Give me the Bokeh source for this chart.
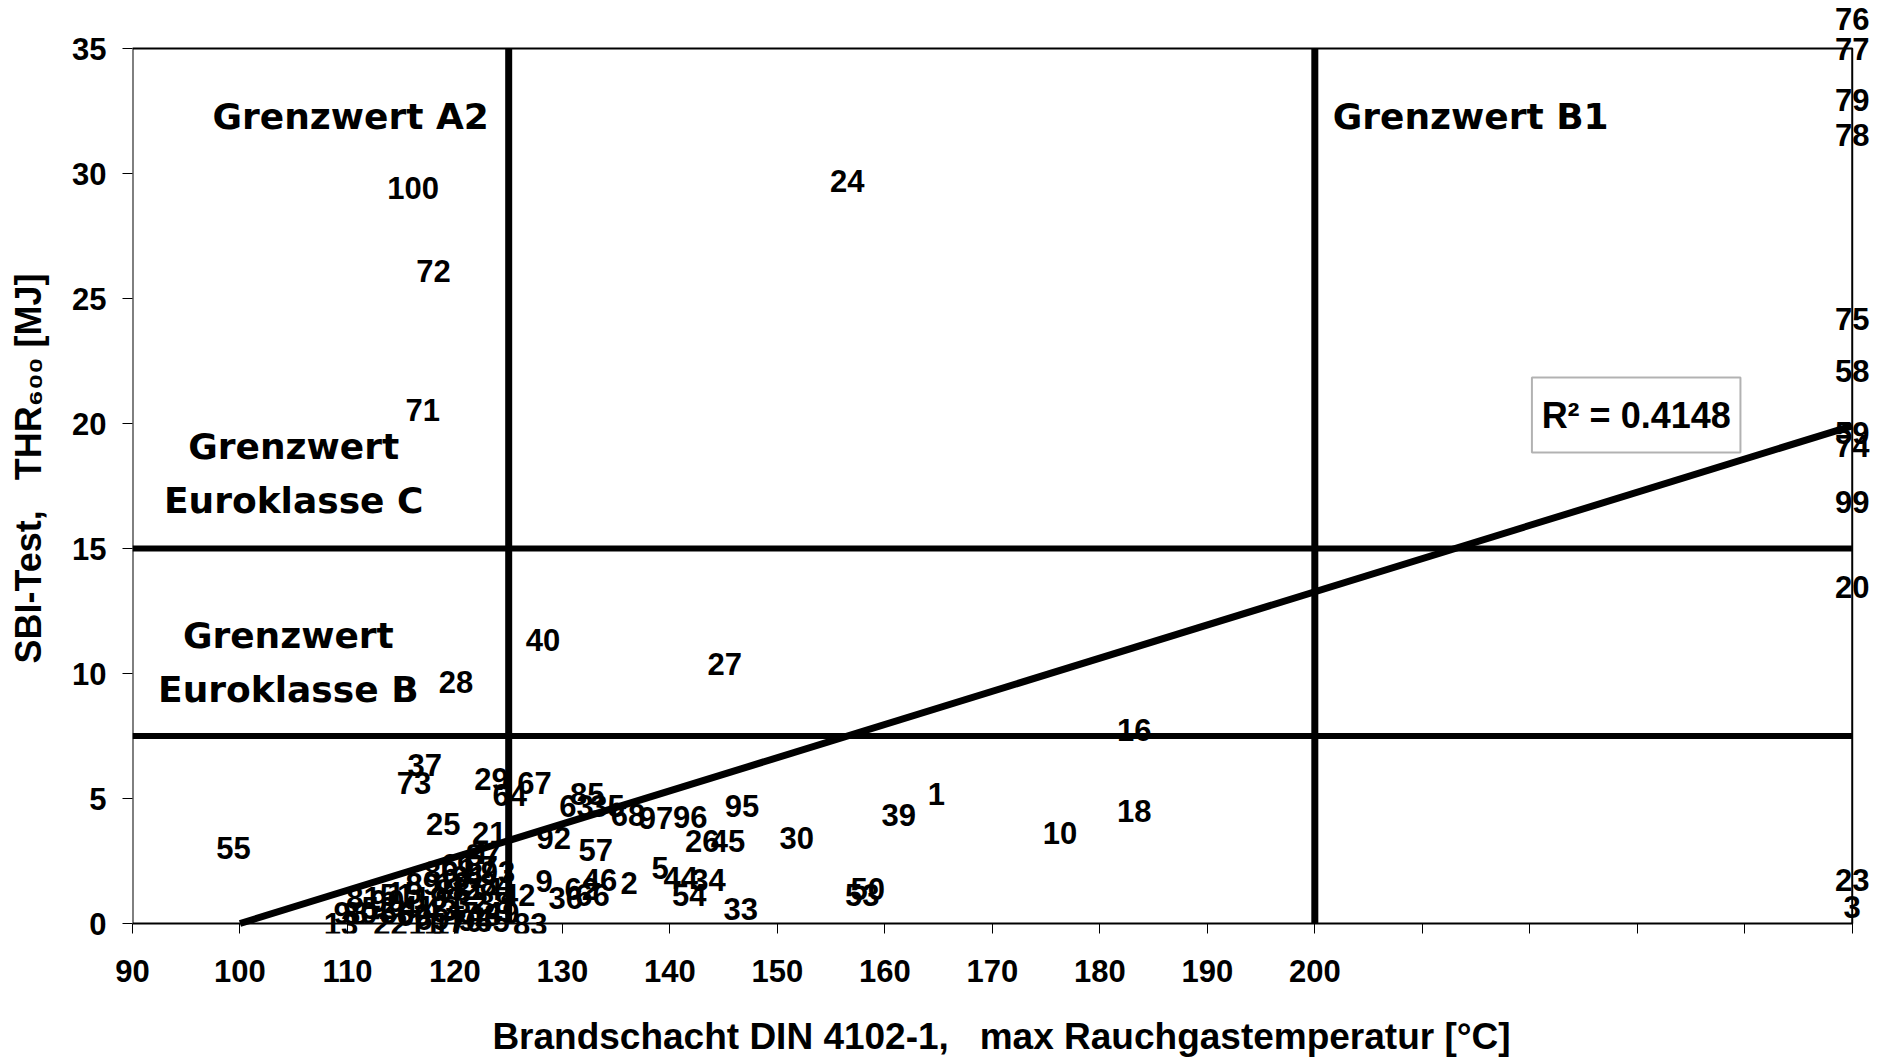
from bokeh.plotting import figure
from bokeh.models import Label, BoxAnnotation, FixedTicker, Range1d
from bokeh.embed import file_html
from bokeh.resources import INLINE

# ---- data: sample number, max smoke-gas temperature [°C], THR600 [MJ] ----
sample = ["100", "72", "71", "24", "40", "27", "28", "16", "37", "73",
          "29", "67", "64", "85", "63", "35", "68", "97", "96", "95",
          "26", "45", "30", "39", "1", "10", "18", "55", "25", "21",
          "92", "57", "9", "5", "44", "34", "54", "33", "50", "53",
          "2", "46", "36", "66", "62", "22", "11", "17", "83", "65",
          "13", "98", "61", "84", "42", "81", "51",
          "4", "6", "7", "8", "12", "14", "15", "19", "31", "32",
          "38", "41", "43", "47", "48", "49", "52", "56", "60", "69",
          "70", "80", "82", "86", "87", "88", "89", "90", "91", "93", "94",
          "76", "77", "79", "78", "75", "58", "59", "74", "99", "20", "23", "3"]
temperature = [116.1, 118.0, 117.0, 156.5, 128.2, 145.1, 120.1, 183.2, 117.2, 116.2,
               123.4, 127.4, 125.1, 132.3, 131.3, 134.2, 136.1, 138.7, 141.9, 146.7,
               143.0, 145.4, 151.8, 161.3, 164.8, 176.3, 183.2, 99.4, 118.9, 123.2,
               129.2, 133.1, 128.3, 139.1, 141.0, 143.6, 141.8, 146.6, 158.4, 157.9,
               136.2, 133.5, 130.3, 132.8, 131.8, 114.0, 117.2, 119.5, 127.0, 123.5,
               109.4, 110.3, 120.3, 123.9, 125.9, 111.5, 114.6,
               122.2, 121.0, 123.2, 121.8, 119.9, 122.8, 115.3, 117.7, 119.3, 121.5,
               123.7, 116.5, 118.6, 120.6, 122.7, 124.4, 112.9, 114.6, 116.2, 117.9,
               121.0, 111.2, 120.8, 118.7, 122.6, 119.8, 117.0, 113.7, 121.3, 124.0, 121.9,
               250, 250, 250, 250, 250, 250, 250, 250, 250, 250, 250, 250]
thr600 = [29.43, 26.12, 20.55, 29.72, 11.34, 10.38, 9.66, 7.74, 6.34, 5.62,
          5.77, 5.62, 5.14, 5.19, 4.71, 4.71, 4.33, 4.23, 4.28, 4.71,
          3.32, 3.32, 3.42, 4.33, 5.19, 3.61, 4.52, 3.03, 3.99, 3.61,
          3.42, 2.94, 1.69, 2.22, 1.83, 1.74, 1.16, 0.59, 1.40, 1.16,
          1.64, 1.74, 1.02, 1.16, 1.40, 0.0, 0.0, 0.0, 0.0, 0.10,
          0.0, 0.44, 2.36, 1.59, 1.16, 1.02, 1.16,
          2.84, 2.46, 2.26, 1.98, 1.64, 1.40, 1.21, 1.02, 1.02, 0.82,
          0.82, 0.68, 0.54, 0.44, 0.34, 0.44, 0.63, 0.44, 0.34, 0.20,
          0.10, 0.44, 1.40, 2.07, 2.74, 1.35, 1.59, 0.92, 1.88, 2.07, 0.15,
          36.2, 35.0, 32.94, 31.54, 24.2, 22.09, 19.64, 19.11, 16.86, 13.45, 1.74, 0.68]

# axis extent of the printed chart
X_MIN, X_MAX = 90, 250
Y_MIN, Y_MAX = 0, 35

# regression line (as printed in the chart) and limit values
trend_x = [100, 250]
trend_slope = 0.1327
trend_zero = 100
r2_text = "R² = 0.4148"
limit_x = [125, 200]          # Grenzwert A2, Grenzwert B1
limit_y = [15, 7.5]           # Euroklasse C, Euroklasse B

x_ticks = list(range(90, 251, 10))
x_tick_labels = {t: (str(t) if t <= 200 else "") for t in x_ticks}
y_ticks = list(range(0, 36, 5))

FONT = "Liberation Sans"
WIDE = "DejaVu Sans"

# the drawing area is a little larger than the axis box so that labels of
# points sitting on the box edge are not cut off
p = figure(width=1878, height=1059,
           x_range=Range1d(X_MIN, X_MAX + 1.7), y_range=Range1d(Y_MIN - 0.4, Y_MAX + 1.8),
           output_backend="svg", toolbar_location=None,
           min_border_left=132, min_border_right=8, min_border_top=3, min_border_bottom=126)
p.xgrid.visible = False
p.ygrid.visible = False
p.outline_line_color = None
p.background_fill_color = "white"
p.border_fill_color = "white"

for ax in (p.xaxis[0], p.yaxis[0]):
    ax.axis_line_color = None
    ax.minor_tick_out = 0
    ax.minor_tick_in = 0
    ax.major_tick_line_color = "black"
    ax.major_label_text_font = FONT
    ax.major_label_text_font_style = "bold"
    ax.major_label_text_font_size = "31px"
    ax.major_label_text_color = "black"
    ax.axis_label_text_font = FONT
    ax.axis_label_text_font_style = "bold"
    ax.axis_label_text_color = "black"

p.yaxis.major_tick_out = 10
p.yaxis.major_tick_in = 0
p.xaxis.major_tick_out = 0
p.xaxis.major_tick_in = 10
p.xaxis.axis_label_text_font_size = "37px"
p.yaxis.axis_label_text_font_size = "36px"

p.xaxis.ticker = FixedTicker(ticks=x_ticks, minor_ticks=[])
p.xaxis.major_label_overrides = x_tick_labels
p.yaxis.ticker = FixedTicker(ticks=y_ticks, minor_ticks=[])
p.xaxis.major_label_standoff = 26
p.yaxis.major_label_standoff = 16
p.xaxis.axis_label = "Brandschacht DIN 4102-1,\u00a0\u00a0 max Rauchgastemperatur [°C]"
p.yaxis.axis_label = "SBI-Test,\u00a0\u00a0 THR\u2086\u2080\u2080 [MJ]"
p.xaxis.axis_label_standoff = 31
p.yaxis.axis_label_standoff = 20

# axis box
p.line([X_MIN, X_MAX, X_MAX, X_MIN, X_MIN], [Y_MIN, Y_MIN, Y_MAX, Y_MAX, Y_MIN],
       line_color="black", line_width=2)

# limit lines
for xv in limit_x:
    p.line([xv, xv], [Y_MIN, Y_MAX], line_color="black", line_width=7)
for yv in limit_y:
    p.line([X_MIN, X_MAX], [yv, yv], line_color="black", line_width=6)

# trend line
trend_y = [trend_slope * (x - trend_zero) for x in trend_x]
p.line(trend_x, trend_y, line_color="black", line_width=7)

# point labels
for t, xv, yv in zip(sample, temperature, thr600):
    p.add_layout(Label(x=xv, y=yv, text=t, text_font=FONT, text_font_style="bold",
                       text_font_size="31px", text_color="black",
                       text_align="center", text_baseline="middle"))

# limit annotations
def note(x, y, txt):
    p.add_layout(Label(x=x, y=y, text=txt, text_font=WIDE, text_font_style="bold",
                       text_font_size="36px", text_color="black",
                       text_align="center", text_baseline="middle"))

note(110.3, 32.3, "Grenzwert A2")
note(214.5, 32.3, "Grenzwert B1")
note(105.0, 19.08, "Grenzwert")
note(105.0, 16.92, "Euroklasse C")
note(104.5, 11.52, "Grenzwert")
note(104.5, 9.36, "Euroklasse B")

# R² box
p.add_layout(BoxAnnotation(left=220.2, right=239.6, bottom=18.84, top=21.84,
                           fill_color="white", fill_alpha=1,
                           line_color="black", line_width=2))
p.add_layout(Label(x=229.9, y=20.34, text=r2_text, text_font=FONT,
                   text_font_style="bold", text_font_size="36px", text_color="black",
                   text_align="center", text_baseline="middle"))

open("out.html", "w").write(file_html(p, INLINE))
